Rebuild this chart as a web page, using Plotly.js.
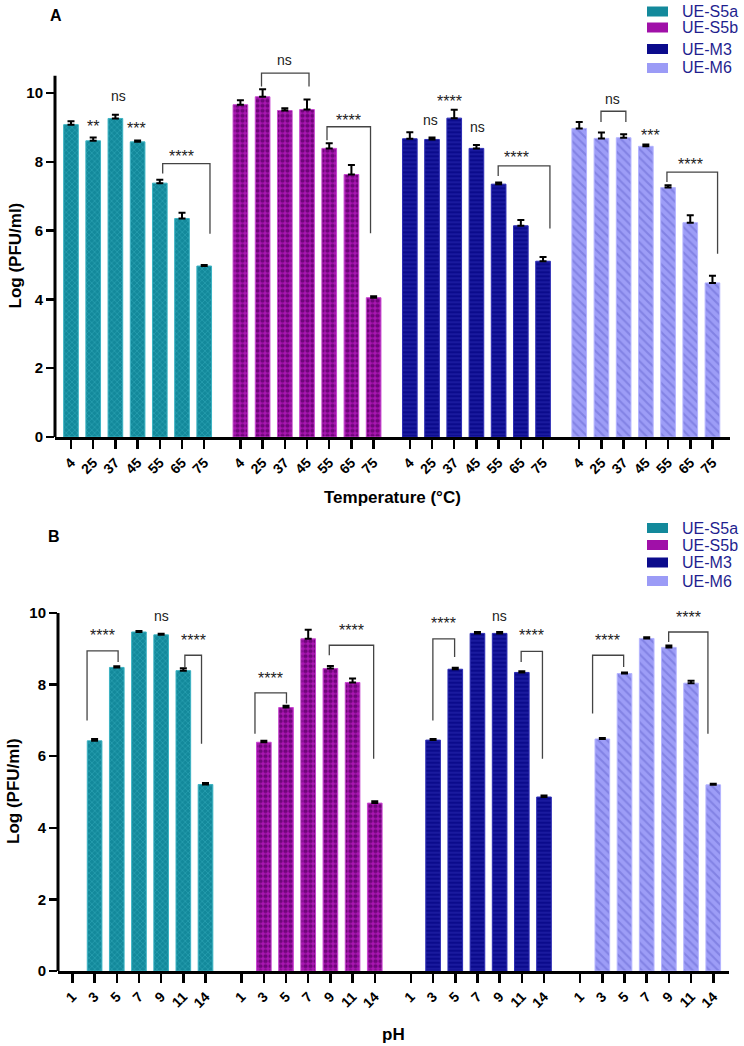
<!DOCTYPE html>
<html>
<head>
<meta charset="utf-8">
<script src="https://cdn.plot.ly/plotly-3.0.1.min.js"></script>
<style>html,body{margin:0;padding:0;background:#fff;}#chart{width:744px;height:1046px;}</style>
</head>
<body>
<div id="chart"></div>
<script>
// ---------- DATA ----------
const strains = ['UE-S5a', 'UE-S5b', 'UE-M3', 'UE-M6'];
const tempLabels = ['4', '25', '37', '45', '55', '65', '75'];
const phLabels = ['1', '3', '5', '7', '9', '11', '14'];

// Panel A: Log(PFU/ml) vs temperature (°C)
const tempS5a = [9.08, 8.61, 9.26, 8.58, 7.38, 6.35, 4.97];
const tempS5b = [9.66, 9.89, 9.49, 9.52, 8.39, 7.63, 4.05];
const tempM3  = [8.67, 8.65, 9.27, 8.39, 7.35, 6.14, 5.11];
const tempM6  = [8.97, 8.68, 8.70, 8.45, 7.25, 6.23, 4.48];
const tempS5aErr = [0.10, 0.10, 0.11, 0.04, 0.10, 0.17, 0.03];
const tempS5bErr = [0.13, 0.22, 0.07, 0.29, 0.15, 0.28, 0.04];
const tempM3Err  = [0.19, 0.06, 0.24, 0.10, 0.05, 0.17, 0.12];
const tempM6Err  = [0.19, 0.17, 0.10, 0.05, 0.07, 0.22, 0.21];

// Panel B: Log(PFU/ml) vs pH
const phS5a = [0, 6.43, 8.48, 9.47, 9.39, 8.39, 5.21];
const phS5b = [0, 6.39, 7.36, 9.28, 8.45, 8.06, 4.69];
const phM3  = [0, 6.45, 8.43, 9.43, 9.43, 8.34, 4.86];
const phM6  = [0, 6.48, 8.31, 9.29, 9.04, 8.04, 5.20];
const phS5aErr = [0, 0.05, 0.03, 0.03, 0.03, 0.07, 0.04];
const phS5bErr = [0, 0.04, 0.05, 0.25, 0.07, 0.11, 0.05];
const phM3Err  = [0, 0.03, 0.04, 0.04, 0.04, 0.03, 0.04];
const phM6Err  = [0, 0.03, 0.03, 0.03, 0.05, 0.07, 0.03];

// Significance labels: [group, position within group, y, text]
const tempSig = [
  [0, 1.00, 9.13, '**'], [0, 2.13, 9.91, 'ns'], [0, 2.96, 9.08, '***'], [0, 4.99, 8.27, '****'],
  [1, 2.00, 10.97, 'ns'], [1, 4.85, 9.31, '****'],
  [2, 0.93, 9.22, 'ns'], [2, 1.80, 9.88, '****'], [2, 3.05, 9.01, 'ns'], [2, 4.81, 8.24, '****'],
  [3, 1.50, 9.84, 'ns'], [3, 3.20, 8.87, '***'], [3, 5.00, 8.04, '****']
];
// Brackets: [group, left pos, right pos, top y, left end y, right end y]
const tempBr = [
  [0, 4.13, 6.26, 7.95, 7.66, 5.91],
  [1, 0.95, 3.09, 10.58, 10.19, 10.19],
  [1, 3.90, 5.86, 9.02, 8.63, 5.92],
  [2, 3.98, 6.31, 7.88, 7.59, 6.06],
  [3, 0.98, 2.10, 9.47, 9.16, 9.16],
  [3, 3.95, 6.23, 7.70, 7.41, 5.33]
];
const phSig = [
  [0, 1.34, 9.47, '****'], [0, 4.01, 9.93, 'ns'], [0, 5.44, 9.35, '****'],
  [1, 1.30, 8.29, '****'], [1, 4.94, 9.63, '****'],
  [2, 1.47, 9.81, '****'], [2, 4.00, 9.93, 'ns'], [2, 5.45, 9.47, '****'],
  [3, 1.25, 9.35, '****'], [3, 4.89, 10.0, '****']
];
const phBr = [
  [0, 0.66, 2.06, 8.94, 7.00, 8.63],
  [0, 5.07, 5.82, 8.82, 8.49, 6.35],
  [1, 0.60, 2.02, 7.77, 6.63, 7.47],
  [1, 3.95, 5.95, 9.10, 8.82, 5.93],
  [2, 0.99, 1.97, 9.28, 7.00, 8.77],
  [2, 4.97, 5.93, 8.93, 8.63, 5.93],
  [3, 0.56, 1.96, 8.82, 7.19, 8.49],
  [3, 3.99, 5.76, 9.47, 9.19, 6.63]
];

// ---------- STYLE / LAYOUT ----------
const W = 744, H = 1046;
const stride = 7.63;
const FONT = 'Arial, "Liberation Sans", Helvetica, sans-serif';
const px = v => v / W;
const py = v => 1 - v / H;
const xpos = (g, i) => g * stride + i;

const styles = [
  {color: '#13899b', line: '#3cb3c3', pattern: {shape: 'x', bgcolor: '#13899b', fgcolor: '#2ba3b3', size: 4, solidity: 0.3}},
  {color: '#a010a8', line: '#c848d0', pattern: {shape: '.', bgcolor: '#aa16b2', fgcolor: '#70067a', size: 5, solidity: 0.55}},
  {color: '#0b0b8c', line: '#2c2cb4', pattern: {shape: '-', bgcolor: '#0b0b8c', fgcolor: '#2424aa', size: 4, solidity: 0.3}},
  {color: '#9b9bf6', line: '#b4b4ff', pattern: {shape: '\\', bgcolor: '#9d9df7', fgcolor: '#8282e4', size: 6, solidity: 0.35}}
];

const tempVals = [tempS5a, tempS5b, tempM3, tempM6];
const tempErrs = [tempS5aErr, tempS5bErr, tempM3Err, tempM6Err];
const phVals = [phS5a, phS5b, phM3, phM6];
const phErrs = [phS5aErr, phS5bErr, phM3Err, phM6Err];

function makeBars(vals, errs, xa, ya) {
  return vals.map((v, g) => ({
    type: 'bar',
    name: strains[g],
    x: v.map((_, i) => xpos(g, i)),
    y: v.map(d => d > 0 ? d : null),   // a zero value is drawn as no bar
    width: 0.66,
    xaxis: xa, yaxis: ya,
    showlegend: false,
    hoverinfo: 'skip',
    marker: {color: styles[g].color,
             line: {color: styles[g].line, width: 1},
             pattern: styles[g].pattern},
    error_y: {type: 'data', symmetric: false,
              array: errs[g].map((e, i) => v[i] > 0 ? e : null),
              arrayminus: errs[g].map(() => 0),
              color: '#000', thickness: 2, width: 3.5}
  }));
}

const data = [].concat(makeBars(tempVals, tempErrs, 'x', 'y'), makeBars(phVals, phErrs, 'x2', 'y2'));

const tickVals = [], tickTextA = [], tickTextB = [];
for (let g = 0; g < 4; g++) {
  for (let i = 0; i < 7; i++) {
    tickVals.push(xpos(g, i));
    tickTextA.push(tempLabels[i]);
    tickTextB.push(phLabels[i]);
  }
}

const xTickFont = {family: FONT, size: 14, color: '#000', weight: 'bold'};
const yTickFont = {family: FONT, size: 15, color: '#000', weight: 'bold'};
const xBase = {
  tickmode: 'array', tickvals: tickVals, tickangle: -45,
  ticks: 'outside', ticklen: 9, tickwidth: 2.5, tickcolor: '#000',
  showline: true, linewidth: 3, linecolor: '#000',
  showgrid: false, zeroline: false, tickfont: xTickFont, fixedrange: true
};
const yBase = {
  tickmode: 'array', tickvals: [0, 2, 4, 6, 8, 10],
  ticks: 'outside', ticklen: 8, tickwidth: 2.5, tickcolor: '#000',
  showline: false, showgrid: false, zeroline: false, tickfont: yTickFont, fixedrange: true
};

const shapes = [];
const annotations = [];

function addBrackets(list, xa, ya) {
  list.forEach(b => {
    const x0 = xpos(b[0], b[1]), x1 = xpos(b[0], b[2]);
    shapes.push({type: 'path', xref: xa, yref: ya,
      path: `M${x0},${b[4]} L${x0},${b[3]} L${x1},${b[3]} L${x1},${b[5]}`,
      line: {color: '#444', width: 1.3}});
  });
}
function addSig(list, xa, ya) {
  list.forEach(s => {
    const star = s[3].indexOf('*') >= 0;
    annotations.push({xref: xa, yref: ya, x: xpos(s[0], s[1]), y: s[2], text: s[3],
      showarrow: false, xanchor: 'center', yanchor: 'middle', yshift: star ? -4 : 0,
      font: {family: FONT, size: star ? 16 : 14, color: '#222'}});
  });
}
addBrackets(tempBr, 'x', 'y');
addBrackets(phBr, 'x2', 'y2');
addSig(tempSig, 'x', 'y');
addSig(phSig, 'x2', 'y2');

// y axis lines (end at the top tick, like the reference)
shapes.push({type: 'line', xref: 'x domain', yref: 'y', x0: 0, x1: 0, y0: 0, y1: 10.5, line: {color: '#000', width: 3}});
shapes.push({type: 'line', xref: 'x2 domain', yref: 'y2', x0: 0, x1: 0, y0: 0, y1: 10, line: {color: '#000', width: 3}});

// Legends (drawn manually to match swatch geometry)
function addLegend(rows) {
  rows.forEach((cy, g) => {
    shapes.push({type: 'rect', xref: 'paper', yref: 'paper', x0: px(647), x1: px(668), y0: py(cy + 5), y1: py(cy - 5),
      fillcolor: styles[g].color, line: {width: 0}});
    annotations.push({xref: 'paper', yref: 'paper', x: px(680), y: py(cy), xanchor: 'left', yanchor: 'middle',
      text: strains[g], showarrow: false, font: {family: FONT, size: 16, color: '#1f1f8f'}});
  });
}
addLegend([11.5, 27.5, 49, 68]);
addLegend([528, 545, 562.5, 581]);

// Titles and panel labels
const boldFont = (s) => ({family: FONT, size: s, color: '#000', weight: 'bold'});
function paperText(x, y, text, size, extra) {
  annotations.push(Object.assign({xref: 'paper', yref: 'paper', x: px(x), y: py(y), text: text,
    xanchor: 'center', yanchor: 'middle', showarrow: false, font: boldFont(size)}, extra || {}));
}
paperText(56, 16, 'A', 16);
paperText(54, 536, 'B', 16);
paperText(392, 497, 'Temperature (°C)', 17);
paperText(393, 1034, 'pH', 17);
paperText(14.5, 256, 'Log (PFU/ml)', 17, {textangle: -90});
paperText(14, 791, 'Log (PFU/ml)', 17, {textangle: -90});

const layout = {
  width: W, height: H,
  margin: {l: 0, r: 0, t: 0, b: 0},
  paper_bgcolor: '#fff', plot_bgcolor: 'rgba(0,0,0,0)',
  font: {family: FONT, color: '#000'},
  barmode: 'overlay',
  showlegend: false,
  xaxis: Object.assign({}, xBase, {domain: [px(55), px(730)], range: [-0.72, 29.68], anchor: 'y', ticktext: tickTextA}),
  yaxis: Object.assign({}, yBase, {domain: [py(437), py(48.3)], range: [0, 11.3], anchor: 'x'}),
  xaxis2: Object.assign({}, xBase, {domain: [px(58), px(729)], range: [-0.65, 29.6], anchor: 'y2', ticktext: tickTextB}),
  yaxis2: Object.assign({}, yBase, {domain: [py(971), py(598.7)], range: [0, 10.4], anchor: 'x2'}),
  shapes: shapes,
  annotations: annotations
};

Plotly.newPlot('chart', data, layout, {displayModeBar: false, staticPlot: true});
</script>
</body>
</html>
